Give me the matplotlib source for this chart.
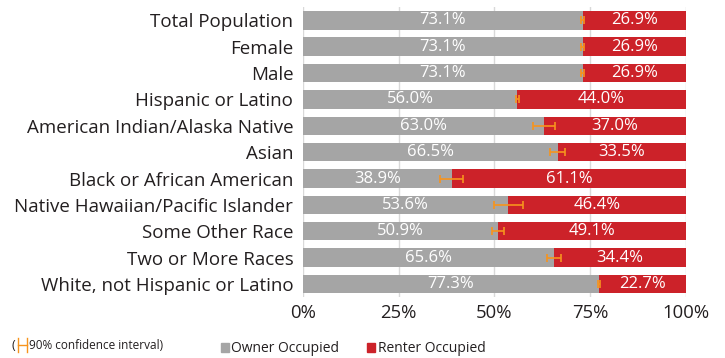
import matplotlib
matplotlib.use('Agg')
import numpy as np
import matplotlib.pyplot as plt
from matplotlib.patches import Patch
from matplotlib.lines import Line2D

# ------------ Data ---------------
groups = [
    'Total Population', 'Female', 'Male', 'Hispanic or Latino',
    'American Indian/Alaska Native', 'Asian', 'Black or African American',
    'Native Hawaiian/Pacific Islander', 'Some Other Race', 'Two or More Races',
    'White, not Hispanic or Latino',
]
owner = [73.1, 73.1, 73.1, 56.0, 63.0, 66.5, 38.9, 53.6, 50.9, 65.6, 77.3]
renter = [26.9, 26.9, 26.9, 44.0, 37.0, 33.5, 61.1, 46.4, 49.1, 34.4, 22.7]
# 90% confidence interval margins on the owner share
moe = [0.4, 0.4, 0.4, 0.5, 2.8, 2.0, 3.0, 3.8, 1.6, 1.9, 0.3]
ticks = [0, 25, 50, 75, 100]

GREY = '#a5a5a5'
RED = '#cc2229'
ORANGE = '#f7941d'
TEXT = '#231f20'

plt.rcParams['font.family'] = ['Open Sans', 'DejaVu Sans']

# ------------ Plot Setup ---------------
fig = plt.figure(figsize=(7.25, 3.58), dpi=100)
ax = fig.add_axes([0.418, 0.170, 0.528, 0.810])

y = np.arange(len(groups))
ax.barh(y, owner, height=0.70, color=GREY, zorder=2)
ax.barh(y, renter, left=owner, height=0.70, color=RED, zorder=2)
ax.errorbar(owner, y, xerr=moe, fmt='none', ecolor=ORANGE,
            elinewidth=1.2, capsize=3, capthick=1.2, zorder=3)

for yi, o, r in zip(y, owner, renter):
    ax.text(o / 2, yi, f'{o:.1f}%', ha='center', va='center',
            color='white', fontsize=12, zorder=4)
    ax.text(o + r / 2, yi, f'{r:.1f}%', ha='center', va='center',
            color='white', fontsize=12, zorder=4)

ax.set_xlim(0, 100)
ax.set_ylim(len(groups) - 0.5, -0.5)
ax.set_yticks(y)
ax.set_yticklabels(groups, fontsize=13.5, color=TEXT)
ax.set_xticks(ticks)
ax.set_xticklabels([f'{t}%' for t in ticks], fontsize=13.3, color=TEXT)
ax.tick_params(length=0)
ax.tick_params(axis='y', pad=7)
ax.tick_params(axis='x', pad=5)
ax.grid(axis='x', color='#d9d9d9', lw=1, zorder=0)
for s in ax.spines.values():
    s.set_visible(False)

# ------------ Legend ---------------
handles = [Patch(color=GREY, label='Owner Occupied'),
           Patch(color=RED, label='Renter Occupied')]
fig.legend(handles=handles, loc='center', bbox_to_anchor=(0.487, 0.026),
           ncol=2, frameon=False, fontsize=10, handlelength=0.6,
           handleheight=0.6, handletextpad=0.15, columnspacing=2.0,
           labelcolor=TEXT, borderpad=0, borderaxespad=0)

# confidence interval key
ky = 0.036
fig.text(0.016, ky, '(', fontsize=9, color=TEXT, va='center')
fig.text(0.040, ky, '90% confidence interval)', fontsize=8.5,
         color=TEXT, va='center')
ex0, ex1 = 0.0245, 0.037
fig.add_artist(Line2D([ex0, ex1], [ky, ky], color=ORANGE, lw=1.0,
                      transform=fig.transFigure))
for ex in (ex0, ex1):
    fig.add_artist(Line2D([ex, ex], [ky - 0.02, ky + 0.02], color=ORANGE,
                          lw=1.0, transform=fig.transFigure))

fig.savefig('out.png', dpi=100)
